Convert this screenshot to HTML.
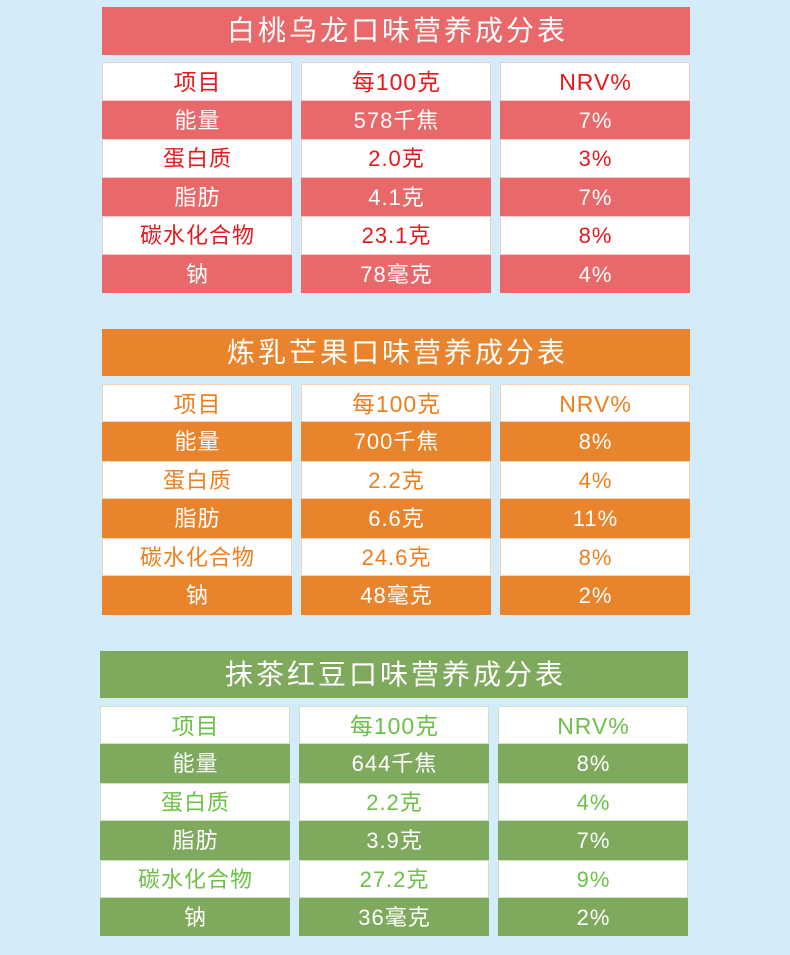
<!DOCTYPE html>
<html><head><meta charset="utf-8"><style>
html,body{margin:0;padding:0}
body{width:790px;height:955px;background:#d4ebfa;position:relative;overflow:hidden;font-family:"Liberation Sans","Noto Sans CJK SC",sans-serif}
.t{position:absolute;color:#fff;text-align:center;font-size:28px;letter-spacing:3px;text-indent:3px}
.c{position:absolute;text-align:center;font-size:22px;letter-spacing:1px;text-indent:1px;box-sizing:border-box}
</style></head><body>
<div id="root"></div>
<script>
const tables=[
 {x:102,ty:7,th:48,ry:62,rh:38.5,bar:"#e9686a",txt:"#e8181d",bd:"#f3c9c9",title:"白桃乌龙口味营养成分表",
  rows:[["能量","578千焦","7%"],["蛋白质","2.0克","3%"],["脂肪","4.1克","7%"],["碳水化合物","23.1克","8%"],["钠","78毫克","4%"]]},
 {x:102,ty:329,th:47,ry:383.5,rh:38.5,bar:"#e9832c",txt:"#f07e1d",bd:"#f6d2b3",title:"炼乳芒果口味营养成分表",
  rows:[["能量","700千焦","8%"],["蛋白质","2.2克","4%"],["脂肪","6.6克","11%"],["碳水化合物","24.6克","8%"],["钠","48毫克","2%"]]},
 {x:100,ty:651,th:47,ry:706,rh:38.4,bar:"#7fa95d",txt:"#6cc146",bd:"#cfe3c3",title:"抹茶红豆口味营养成分表",
  rows:[["能量","644千焦","8%"],["蛋白质","2.2克","4%"],["脂肪","3.9克","7%"],["碳水化合物","27.2克","9%"],["钠","36毫克","2%"]]}
];
let h="";
for(const t of tables){
 h+=`<div class="t" style="left:${t.x}px;top:${t.ty}px;width:588px;height:${t.th}px;line-height:${t.th}px;background:${t.bar}">${t.title}</div>`;
 const all=[["项目","每100克","NRV%"]].concat(t.rows);
 all.forEach((r,i)=>{
  const y=t.ry+i*t.rh;
  const colored=i%2===1;
  r.forEach((s,j)=>{
   const x=t.x+j*199;
   const bg=colored?t.bar:"#fff";
   const col=colored?"#fff":t.txt;
   const fs=i===0?23:22;
   h+=`<div class="c" style="left:${x}px;top:${y}px;width:190px;height:${t.rh}px;line-height:${t.rh}px;background:${bg};color:${col};font-size:${fs}px;border:1px solid ${colored?t.bar:t.bd}">${s}</div>`;
  });
 });
}
document.getElementById("root").innerHTML=h;
</script>
</body></html>
